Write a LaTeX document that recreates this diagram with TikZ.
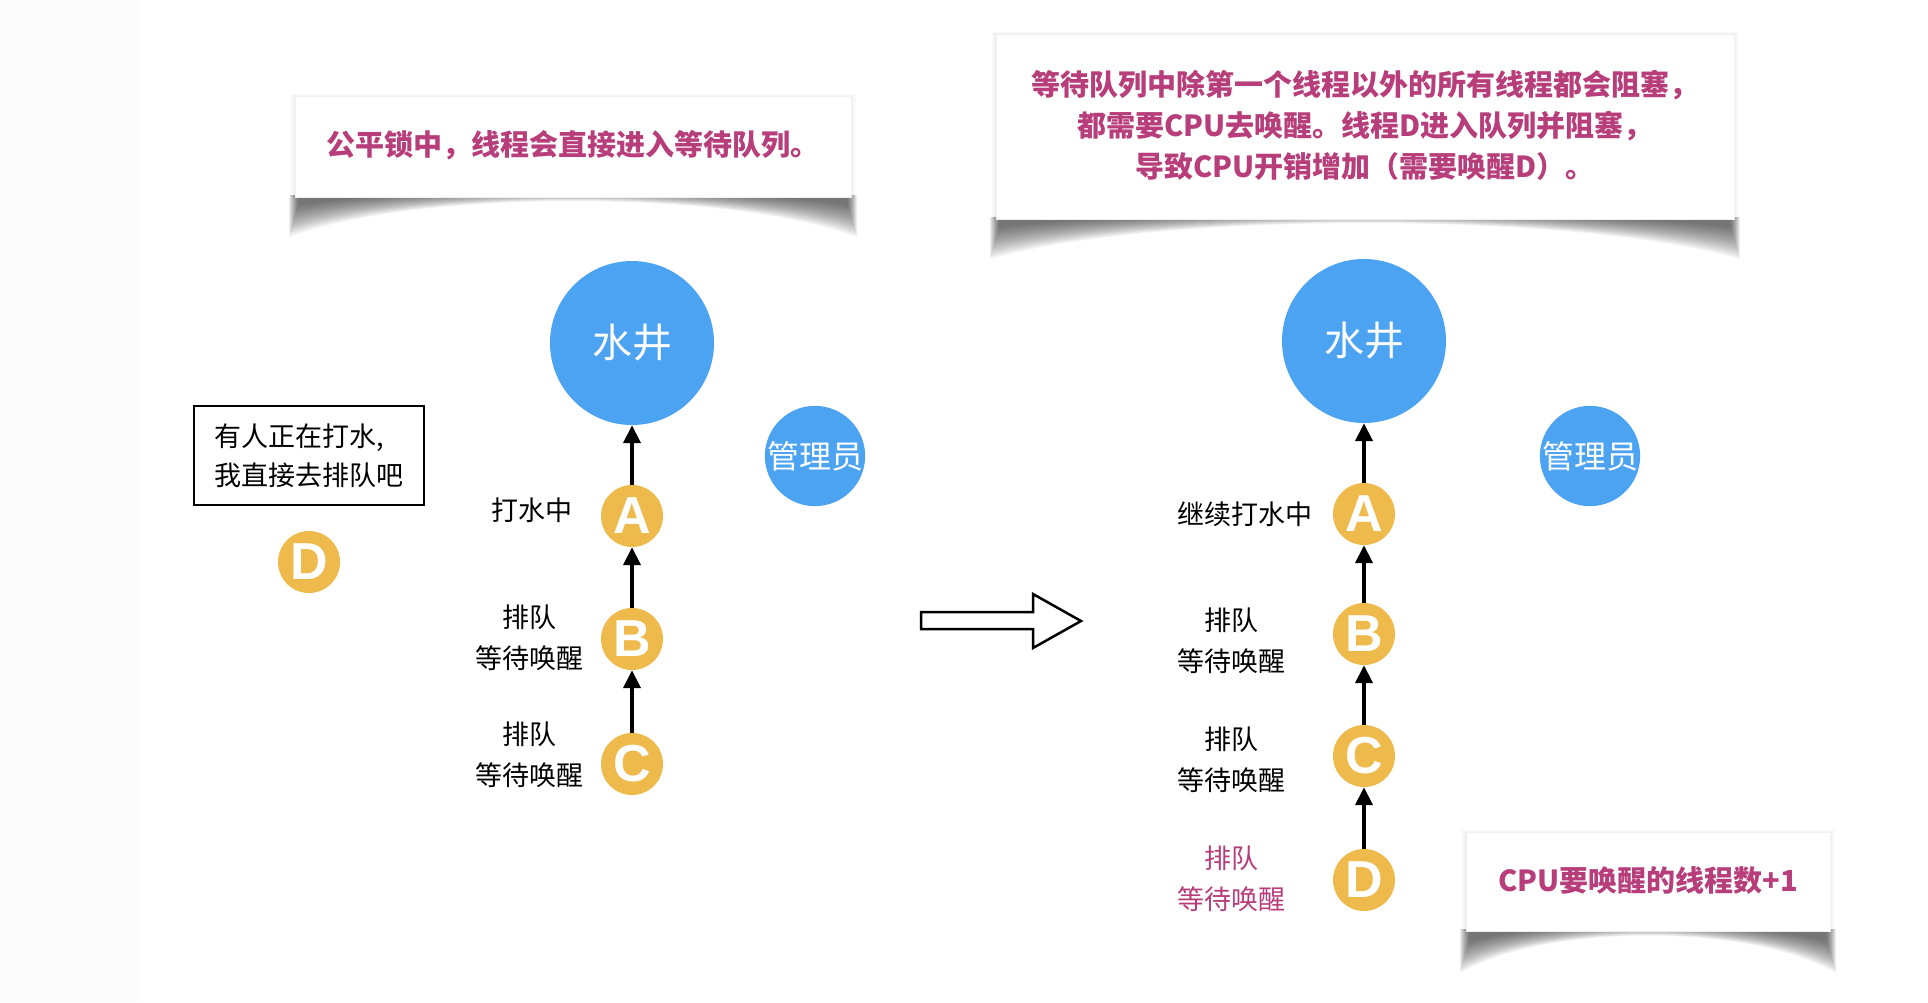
\documentclass[tikz,border=0pt]{standalone}
\usepackage{fontspec}
\setmainfont{Liberation Sans}
\newfontfamily\cjk{Noto Sans CJK SC}
\newfontfamily\latinb{Liberation Sans}
\usetikzlibrary{arrows.meta}
\definecolor{wellblue}{RGB}{76,163,242}
\definecolor{threadc}{RGB}{239,186,76}
\definecolor{pinktext}{RGB}{183,62,122}
\definecolor{offwhite}{RGB}{252,252,252}
\newcommand\curlshadow[4]{% x1 x2 ybottom depth
  \foreach \k in {0,...,13}{%
    \fill[black, opacity=0.05] ({#1-6+\k*0.7}, {#3-2}) -- ({#1-6+\k*0.7}, {#3+#4-\k*2.4})
      .. controls ({#1+(#2-#1)*0.22}, {#3-8-\k*0.2}) and ({#1+(#2-#1)*0.78}, {#3-8-\k*0.2}) ..
      ({#2+6-\k*0.7}, {#3+#4-\k*2.4}) -- ({#2+6-\k*0.7}, {#3-2}) -- cycle;
  }%
}
\newcommand\sideshadow[4]{% x1 y1 x2 y2
  \foreach \k in {1,...,5}{%
    \fill[black, opacity=0.012] ({#1-\k}, {#2-\k*0.4}) rectangle ({#3+\k}, {#4});
  }%
}
\tikzset{
  well/.style={circle, fill=wellblue, minimum size=164pt, inner sep=0pt, text=white,
    font=\cjk\fontsize{40}{42}\selectfont},
  mgr/.style={circle, fill=wellblue, minimum size=100pt, inner sep=0pt, text=white,
    font=\cjk\fontsize{32}{34}\selectfont},
  thr/.style={circle, fill=threadc, minimum size=62pt, inner sep=0pt, text=white,
    font=\latinb\bfseries\fontsize{52}{52}\selectfont},
  lbl/.style={font=\cjk\fontsize{27}{41}\selectfont, align=center, inner sep=0pt},
  flow/.style={line width=4pt, -{Triangle[width=17pt,length=18pt]}},
  callout/.style={fill=white, draw=black!6, line width=0.6pt, inner sep=0pt},
  calltext/.style={text=pinktext, font=\cjk\bfseries\fontsize{29}{41}\selectfont, align=center},
  notebox/.style={draw=black, line width=2pt, fill=white, align=left,
    font=\cjk\fontsize{27}{39}\selectfont, minimum width=230pt, minimum height=99pt},
}
\begin{document}
\begin{tikzpicture}[x=1pt, y=-1pt]
\useasboundingbox (0,0) rectangle (1928,1002);
\fill[white] (0,0) rectangle (1928,1002);
\fill[offwhite] (0,0) rectangle (140,1002);

% callout shadows
\sideshadow{295}{96}{851}{197}
\curlshadow{295}{851}{197}{40}
\sideshadow{996}{34}{1734}{219}
\curlshadow{996}{1734}{219}{40}
\sideshadow{1466}{832}{1830}{931}
\curlshadow{1466}{1830}{931}{42}

% callouts
\node[callout, minimum width=556pt, minimum height=101pt] (call1) at (573,146.5) {};
\node[calltext] (t1) at (573,145) {公平锁中，线程会直接进入等待队列。};
\node[callout, minimum width=738pt, minimum height=185pt] (call2) at (1365,126.5) {};
\node[calltext] (t2) at (1365,125) {等待队列中除第一个线程以外的所有线程都会阻塞，\\都需要CPU去唤醒。线程D进入队列并阻塞，\\导致CPU开销增加（需要唤醒D）。};
\node[callout, minimum width=364pt, minimum height=99pt] (call3) at (1648,881.5) {};
\node[calltext] (t3) at (1648,880) {CPU要唤醒的线程数+1};

% left diagram
\node[well] (well1) at (632,343) {水井};
\node[mgr] (mgr1) at (815,456) {管理员};
\node[thr] (a1) at (632,516) {A};
\node[thr] (b1) at (632,639) {B};
\node[thr] (c1) at (632,764) {C};
\node[thr] (d1) at (309,562) {D};
\node[notebox] (note1) at (309,455.5) {有人正在打水,\\我直接去排队吧};
\node[lbl, anchor=east] (la1) at (573,510) {打水中};
\node[lbl] (lb1) at (529,638) {排队\\等待唤醒};
\node[lbl] (lc1) at (529,755) {排队\\等待唤醒};
\draw[flow] (a1) -- (well1);
\draw[flow] (b1) -- (a1);
\draw[flow] (c1) -- (b1);

% transition arrow
\draw[line width=2.5pt, line join=miter, fill=white] (921,612) -- (1033,612) -- (1033,594) -- (1081,621) -- (1033,648) -- (1033,629) -- (921,629) -- cycle;

% right diagram
\node[well] (well2) at (1364,341) {水井};
\node[mgr] (mgr2) at (1590,456) {管理员};
\node[thr] (a2) at (1364,514) {A};
\node[thr] (b2) at (1364,634) {B};
\node[thr] (c2) at (1364,756) {C};
\node[thr] (d2) at (1364,880) {D};
\node[lbl, anchor=east] (la2) at (1313,514) {继续打水中};
\node[lbl] (lb2) at (1231,641) {排队\\等待唤醒};
\node[lbl] (lc2) at (1231,760) {排队\\等待唤醒};
\node[lbl, text=pinktext] (ld2) at (1231,879) {排队\\等待唤醒};
\draw[flow] (a2) -- (well2);
\draw[flow] (b2) -- (a2);
\draw[flow] (c2) -- (b2);
\draw[flow] (d2) -- (c2);
\end{tikzpicture}
\end{document}
